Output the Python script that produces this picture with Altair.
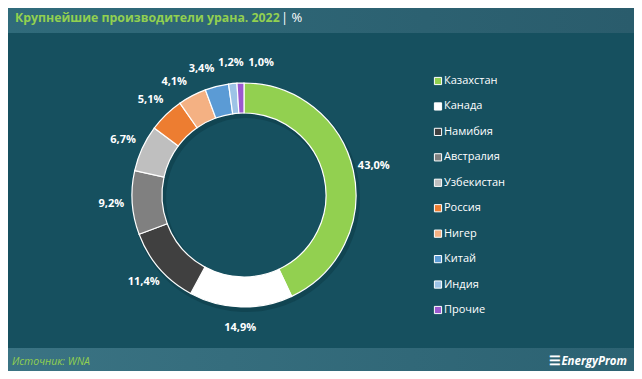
import math
import altair as alt
import pandas as pd

countries = ["Казахстан", "Канада", "Намибия", "Австралия", "Узбекистан",
             "Россия", "Нигер", "Китай", "Индия", "Прочие"]
shares = [43.0, 14.9, 11.4, 9.2, 6.7, 5.1, 4.1, 3.4, 1.2, 1.0]
colors = ["#92d050", "#ffffff", "#404040", "#808080", "#bfbfbf",
          "#ed7d31", "#f4b183", "#5b9bd5", "#9dc3e6", "#9b59d0"]
title_text = "Крупнейшие производители урана. 2022"
title_unit = "|  %"
source_text = "Источник: WNA"
brand_text = "EnergyProm"

W, H = 626, 363
CX, CY = 236, 187

# label angles: mid angles, relaxed so that small neighbouring labels don't collide
total = sum(shares)
mids = []
cum = 0.0
for s in shares:
    mids.append((cum + s / 2) / total * 360.0)
    cum += s
ang = list(mids)
min_sep = 13.0
for _ in range(200):
    moved = False
    for i in range(len(ang) - 1):
        d = ang[i + 1] - ang[i]
        if d < min_sep:
            push = (min_sep - d) / 2
            ang[i] -= push
            ang[i + 1] += push
            moved = True
    if not moved:
        break

df = pd.DataFrame({
    "country": countries,
    "share": shares,
    "order": list(range(len(countries))),
    "label": [f"{v:.1f}%".replace(".", ",") for v in shares],
    "lt": [a * math.pi / 180.0 for a in ang],
})

color_scale = alt.Scale(domain=countries, range=colors)

bg_header = alt.Chart(pd.DataFrame({"a": [0]})).mark_rect(
    fill=alt.Gradient(gradient="linear", x1=0, x2=1, y1=0, y2=0,
                      stops=[alt.GradientStop(color="#306b7b", offset=0),
                             alt.GradientStop(color="#2a5c6c", offset=1)])
).encode(x=alt.value(0), x2=alt.value(W), y=alt.value(0), y2=alt.value(25))

bg_footer = alt.Chart(pd.DataFrame({"a": [0]})).mark_rect(
    fill=alt.Gradient(gradient="linear", x1=0, x2=1, y1=0, y2=0,
                      stops=[alt.GradientStop(color="#3a7383", offset=0),
                             alt.GradientStop(color="#2c6272", offset=1)])
).encode(x=alt.value(0), x2=alt.value(W), y=alt.value(340), y2=alt.value(H))

title = alt.Chart(pd.DataFrame({"t": [title_text]})).mark_text(
    align="left", baseline="middle", font="Open Sans", fontSize=12.3,
    fontWeight="bold", color="#92d050"
).encode(x=alt.value(7), y=alt.value(10), text="t:N")

unit = alt.Chart(pd.DataFrame({"t": [title_unit]})).mark_text(
    align="left", baseline="middle", font="Open Sans", fontSize=13,
    color="#ffffff"
).encode(x=alt.value(273), y=alt.value(10), text="t:N")

source = alt.Chart(pd.DataFrame({"t": [source_text]})).mark_text(
    align="left", baseline="middle", font="Open Sans", fontSize=10.5,
    fontStyle="italic", color="#92d050"
).encode(x=alt.value(4), y=alt.value(354), text="t:N")

brand = alt.Chart(pd.DataFrame({"t": [brand_text]})).mark_text(
    align="right", baseline="middle", font="Open Sans", fontSize=11.5,
    fontStyle="italic", fontWeight="bold", color="#ffffff"
).encode(x=alt.value(W - 7), y=alt.value(354), text="t:N")

brand_logo = alt.Chart(pd.DataFrame({"t": ["☰"]})).mark_text(
    align="right", baseline="middle", fontSize=13, fontWeight="bold",
    color="#ffffff"
).encode(x=alt.value(W - 73), y=alt.value(353), text="t:N")

base = alt.Chart(df)

shadow = base.mark_arc(outerRadius=114, innerRadius=80, color="#0c3a45", opacity=0.5).encode(
    theta=alt.Theta("share:Q", stack=True),
    order=alt.Order("order:Q"),
    x=alt.value(CX + 2), y=alt.value(CY + 3),
)

ring = base.mark_arc(outerRadius=112, innerRadius=82, stroke="#ffffff", strokeWidth=1.2).encode(
    theta=alt.Theta("share:Q", stack=True),
    order=alt.Order("order:Q"),
    color=alt.Color("country:N", scale=color_scale, legend=None),
    x=alt.value(CX), y=alt.value(CY),
)

labels = base.mark_text(
    font="Open Sans", fontSize=11, fontWeight="bold", color="#ffffff",
    align="center", baseline="middle"
).encode(
    theta=alt.Theta("lt:Q", scale=None),
    radius=alt.value(133),
    text="label:N",
    x=alt.value(CX), y=alt.value(CY),
)

leg_scale = alt.Scale(type="point", domain=countries, range=[73, 302], padding=0)

leg_sq = base.mark_square(size=52, stroke="#ffffff", strokeWidth=1, opacity=1).encode(
    x=alt.value(430),
    y=alt.Y("country:N", scale=leg_scale, axis=None),
    fill=alt.Color("country:N", scale=color_scale, legend=None),
)

leg_tx = base.mark_text(
    align="left", baseline="middle", font="Open Sans", fontSize=11, color="#ffffff"
).encode(
    x=alt.value(436),
    y=alt.Y("country:N", scale=leg_scale, axis=None),
    text="country:N",
)

chart = alt.layer(
    bg_header, bg_footer, title, unit, source, brand, brand_logo,
    shadow, ring, labels, leg_sq, leg_tx
).properties(
    width=W, height=H, background="#16505f", padding=0,
    autosize=alt.AutoSizeParams(type="fit", contains="padding"),
).configure_view(stroke=None)

chart.save("out.html", embed_options={"renderer": "svg", "actions": False})
